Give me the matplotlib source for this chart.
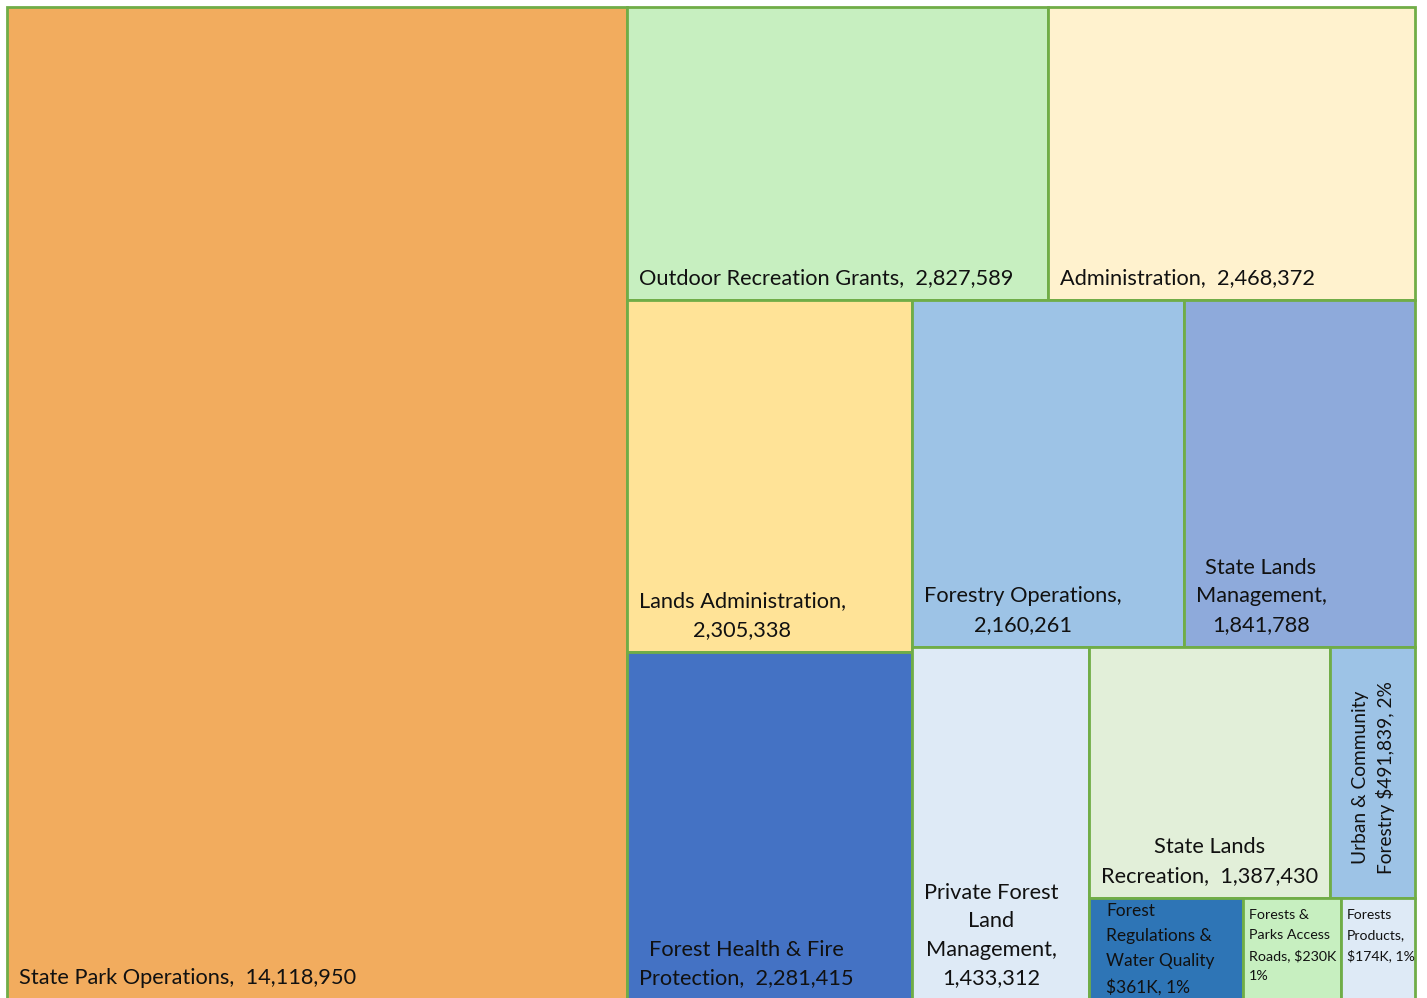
import numpy as np
import matplotlib.pyplot as plt
from matplotlib.patches import Rectangle

# budget programs (Excel-style treemap)
names = ["State Park Operations", "Outdoor Recreation Grants", "Administration",
         "Lands Administration", "Forest Health & Fire Protection", "Forestry Operations",
         "State Lands Management", "Private Forest Land Management", "State Lands Recreation",
         "Urban & Community Forestry", "Forest Regulations & Water Quality",
         "Forests & Parks Access Roads", "Forests Products"]
values = [14118950, 2827589, 2468372, 2305338, 2281415, 2160261, 1841788,
          1433312, 1387430, 491839, 361000, 230000, 174000]
labels = ["State Park Operations,  14,118,950",
          "Outdoor Recreation Grants,  2,827,589",
          "Administration,  2,468,372",
          "Lands Administration,\n2,305,338",
          "Forest Health & Fire\nProtection,  2,281,415",
          "Forestry Operations,\n2,160,261",
          "State Lands\nManagement,\n1,841,788",
          "Private Forest\nLand\nManagement,\n1,433,312",
          "State Lands\nRecreation,  1,387,430",
          "Urban & Community\nForestry $491,839, 2%",
          "Forest\nRegulations &\nWater Quality\n$361K, 1%",
          "Forests &\nParks Access\nRoads, $230K\n1%",
          "Forests\nProducts,\n$174K, 1%"]
colors = ["#F2AC5E", "#C7EFC0", "#FFF2CE", "#FFE397", "#4472C4", "#9DC3E6", "#8EAADB",
          "#DEEAF6", "#E2EFD9", "#9DC3E6", "#2E75B6", "#C7EFC0", "#DEEAF6"]
# how many items go in each strip of the squarified layout
group_sizes = [1, 2, 2, 2, 1, 2, 1, 1, 1]
# label placement: bottom-left, rotated, top-left
label_mode = ["bl"] * 9 + ["rot", "tl", "tl", "tl"]
label_size = [15.7] * 9 + [13.8, 12.5, 10.3, 10.1]

FONT = "Lato"


def squarify_groups(vals, w, h, groups):
    areas = np.array(vals, float) / np.sum(vals) * w * h
    rects = []
    x, y = 0.0, 0.0
    i = 0
    for g in groups:
        a = areas[i:i + g]
        s = a.sum()
        if w >= h:
            cw = s / h
            yy = y
            for ai in a:
                rects.append((x, yy, cw, ai / cw))
                yy += ai / cw
            x += cw
            w -= cw
        else:
            rh = s / w
            xx = x
            for ai in a:
                rects.append((xx, y, ai / rh, rh))
                xx += ai / rh
            y += rh
            h -= rh
        i += g
    return rects


fig = plt.figure(figsize=(14.27, 9.98), dpi=100)
AW, AH = 1408.0, 993.0
ax = fig.add_axes([7 / 1427, (998 - 1000) / 998, AW / 1427, AH / 998])
ax.set_xlim(0, AW)
ax.set_ylim(AH, 0)
ax.set_axis_off()

rects = squarify_groups(values, AW, AH, group_sizes)

for (x, y, w, h), col, lab, mode, fs in zip(rects, colors, labels, label_mode, label_size):
    ax.add_patch(Rectangle((x, y), w, h, facecolor=col, edgecolor="#70AD47",
                           linewidth=2, clip_on=False))
    if mode == "bl":
        ax.annotate(lab, xy=(x, y + h), xytext=(12, 12), textcoords="offset pixels",
                    ha="left", va="bottom", multialignment="center",
                    fontsize=fs, family=FONT, linespacing=1.53, color="#111111")
    elif mode == "rot":
        ax.annotate(lab, xy=(x + w, y + h), xytext=(-20, 24), textcoords="offset pixels",
                    ha="right", va="bottom", multialignment="center", rotation=90,
                    fontsize=fs, family=FONT, linespacing=1.45, color="#111111")
    elif fs > 11:
        ax.annotate(lab, xy=(x, y), xytext=(17, -5), textcoords="offset pixels",
                    ha="left", va="top", multialignment="left",
                    fontsize=fs, family=FONT, linespacing=1.7, color="#111111")
    else:
        ax.annotate(lab, xy=(x, y), xytext=(6, -11), textcoords="offset pixels",
                    ha="left", va="top", multialignment="left",
                    fontsize=fs, family=FONT, linespacing=1.8, color="#111111")

fig.savefig("out.png", dpi=100)
